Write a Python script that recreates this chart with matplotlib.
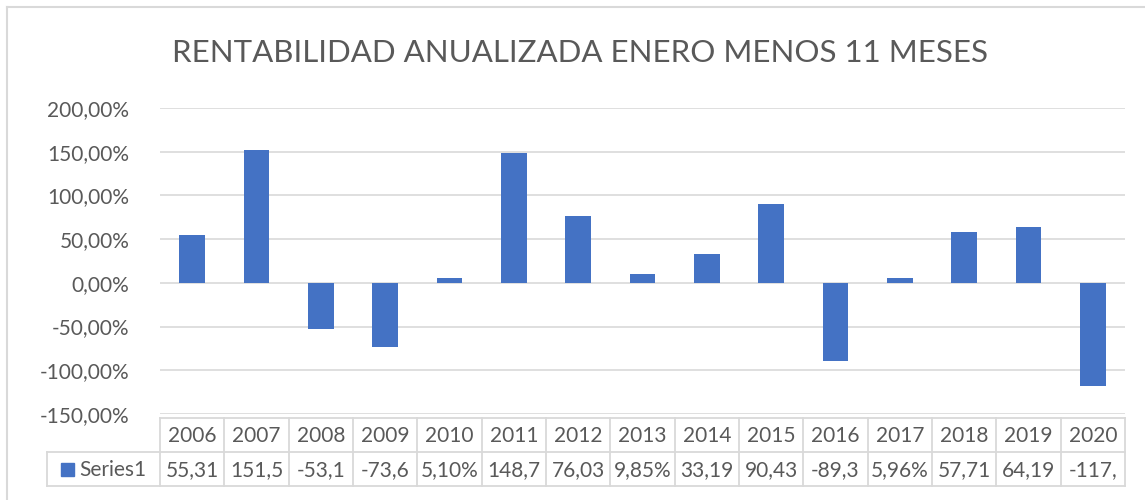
import numpy as np
import matplotlib.pyplot as plt
from matplotlib.patches import Rectangle
from matplotlib.lines import Line2D

plt.rcParams['font.family'] = ['Lato', 'DejaVu Sans']

years = ['2006', '2007', '2008', '2009', '2010', '2011', '2012', '2013',
         '2014', '2015', '2016', '2017', '2018', '2019', '2020']
returns_pct = [55.31, 151.5, -53.1, -73.6, 5.10, 148.7, 76.03, 9.85,
               33.19, 90.43, -89.3, 5.96, 57.71, 64.19, -117.8]
yticks = [-150, -100, -50, 0, 50, 100, 150, 200]
series_name = 'Series1'
title = 'RENTABILIDAD ANUALIZADA ENERO MENOS 11 MESES'

bar_color = '#4472C4'
text_color = '#595959'
grid_color = '#D9D9D9'
W, H = 1145, 500
fs = 15


def cell_text(v):
    # excel shows the percentage cut to fit the cell
    s = ('%.2f%%' % v).replace('.', ',')
    return s[:5]


fig = plt.figure(figsize=(W / 100, H / 100), dpi=100)
ax = fig.add_axes([160 / W, 1 - 414 / H, (1125 - 160) / W, (414 - 108) / H])

x = np.arange(len(years))
ax.bar(x, returns_pct, width=0.4, color=bar_color, zorder=3)
ax.set_xlim(-0.5, len(years) - 0.5)
ax.set_ylim(-150, 200)
ax.set_yticks(yticks)
ax.set_yticklabels([('%.2f%%' % t).replace('.', ',') for t in yticks], fontsize=fs, color=text_color)
ax.set_xticks([])
ax.tick_params(axis='y', length=0, pad=22)
ax.grid(axis='y', color=grid_color, linewidth=1.2, zorder=0)
for sp in ax.spines.values():
    sp.set_visible(False)

fig.text(580 / W, 1 - 53 / H, title, ha='center', va='center', fontsize=22.5, color=text_color)

# data table under the plot
px_y = lambda p: 1 - p / H
px_x = lambda p: p / W
tc = '#D9D9D9'
row_top, row_mid, row_bot = 418, 452, 486
left_tab, right_tab = 160, 1125
fig.add_artist(Line2D([px_x(left_tab), px_x(right_tab)], [px_y(row_top)] * 2, color=tc, lw=1.3))
for yy in (row_mid, row_bot):
    fig.add_artist(Line2D([px_x(47), px_x(right_tab)], [px_y(yy)] * 2, color=tc, lw=1.3))
fig.add_artist(Line2D([px_x(47)] * 2, [px_y(row_mid), px_y(row_bot)], color=tc, lw=1.3))
colw = (right_tab - left_tab) / len(years)
for i in range(len(years) + 1):
    xx = left_tab + i * colw
    fig.add_artist(Line2D([px_x(xx)] * 2, [px_y(row_top), px_y(row_bot)], color=tc, lw=1.3))

for i, (yr, v) in enumerate(zip(years, returns_pct)):
    cx = left_tab + (i + 0.5) * colw
    fig.text(px_x(cx), px_y((row_top + row_mid) / 2 + 1), yr, ha='center', va='center', fontsize=fs, color=text_color)
    fig.text(px_x(cx), px_y((row_mid + row_bot) / 2 + 1), cell_text(v), ha='center', va='center', fontsize=fs, color=text_color)

fig.add_artist(Rectangle((px_x(61), px_y(476)), 13 / W, 13 / H, color=bar_color))
fig.text(px_x(79), px_y((row_mid + row_bot) / 2 + 1), series_name, ha='left', va='center', fontsize=fs, color=text_color)

# chart frame
fig.add_artist(Line2D([px_x(7), px_x(W)], [px_y(7)] * 2, color=tc, lw=1.5))
fig.add_artist(Line2D([px_x(7)] * 2, [px_y(7), 0], color=tc, lw=1.5))

fig.savefig('out.png', dpi=100)
